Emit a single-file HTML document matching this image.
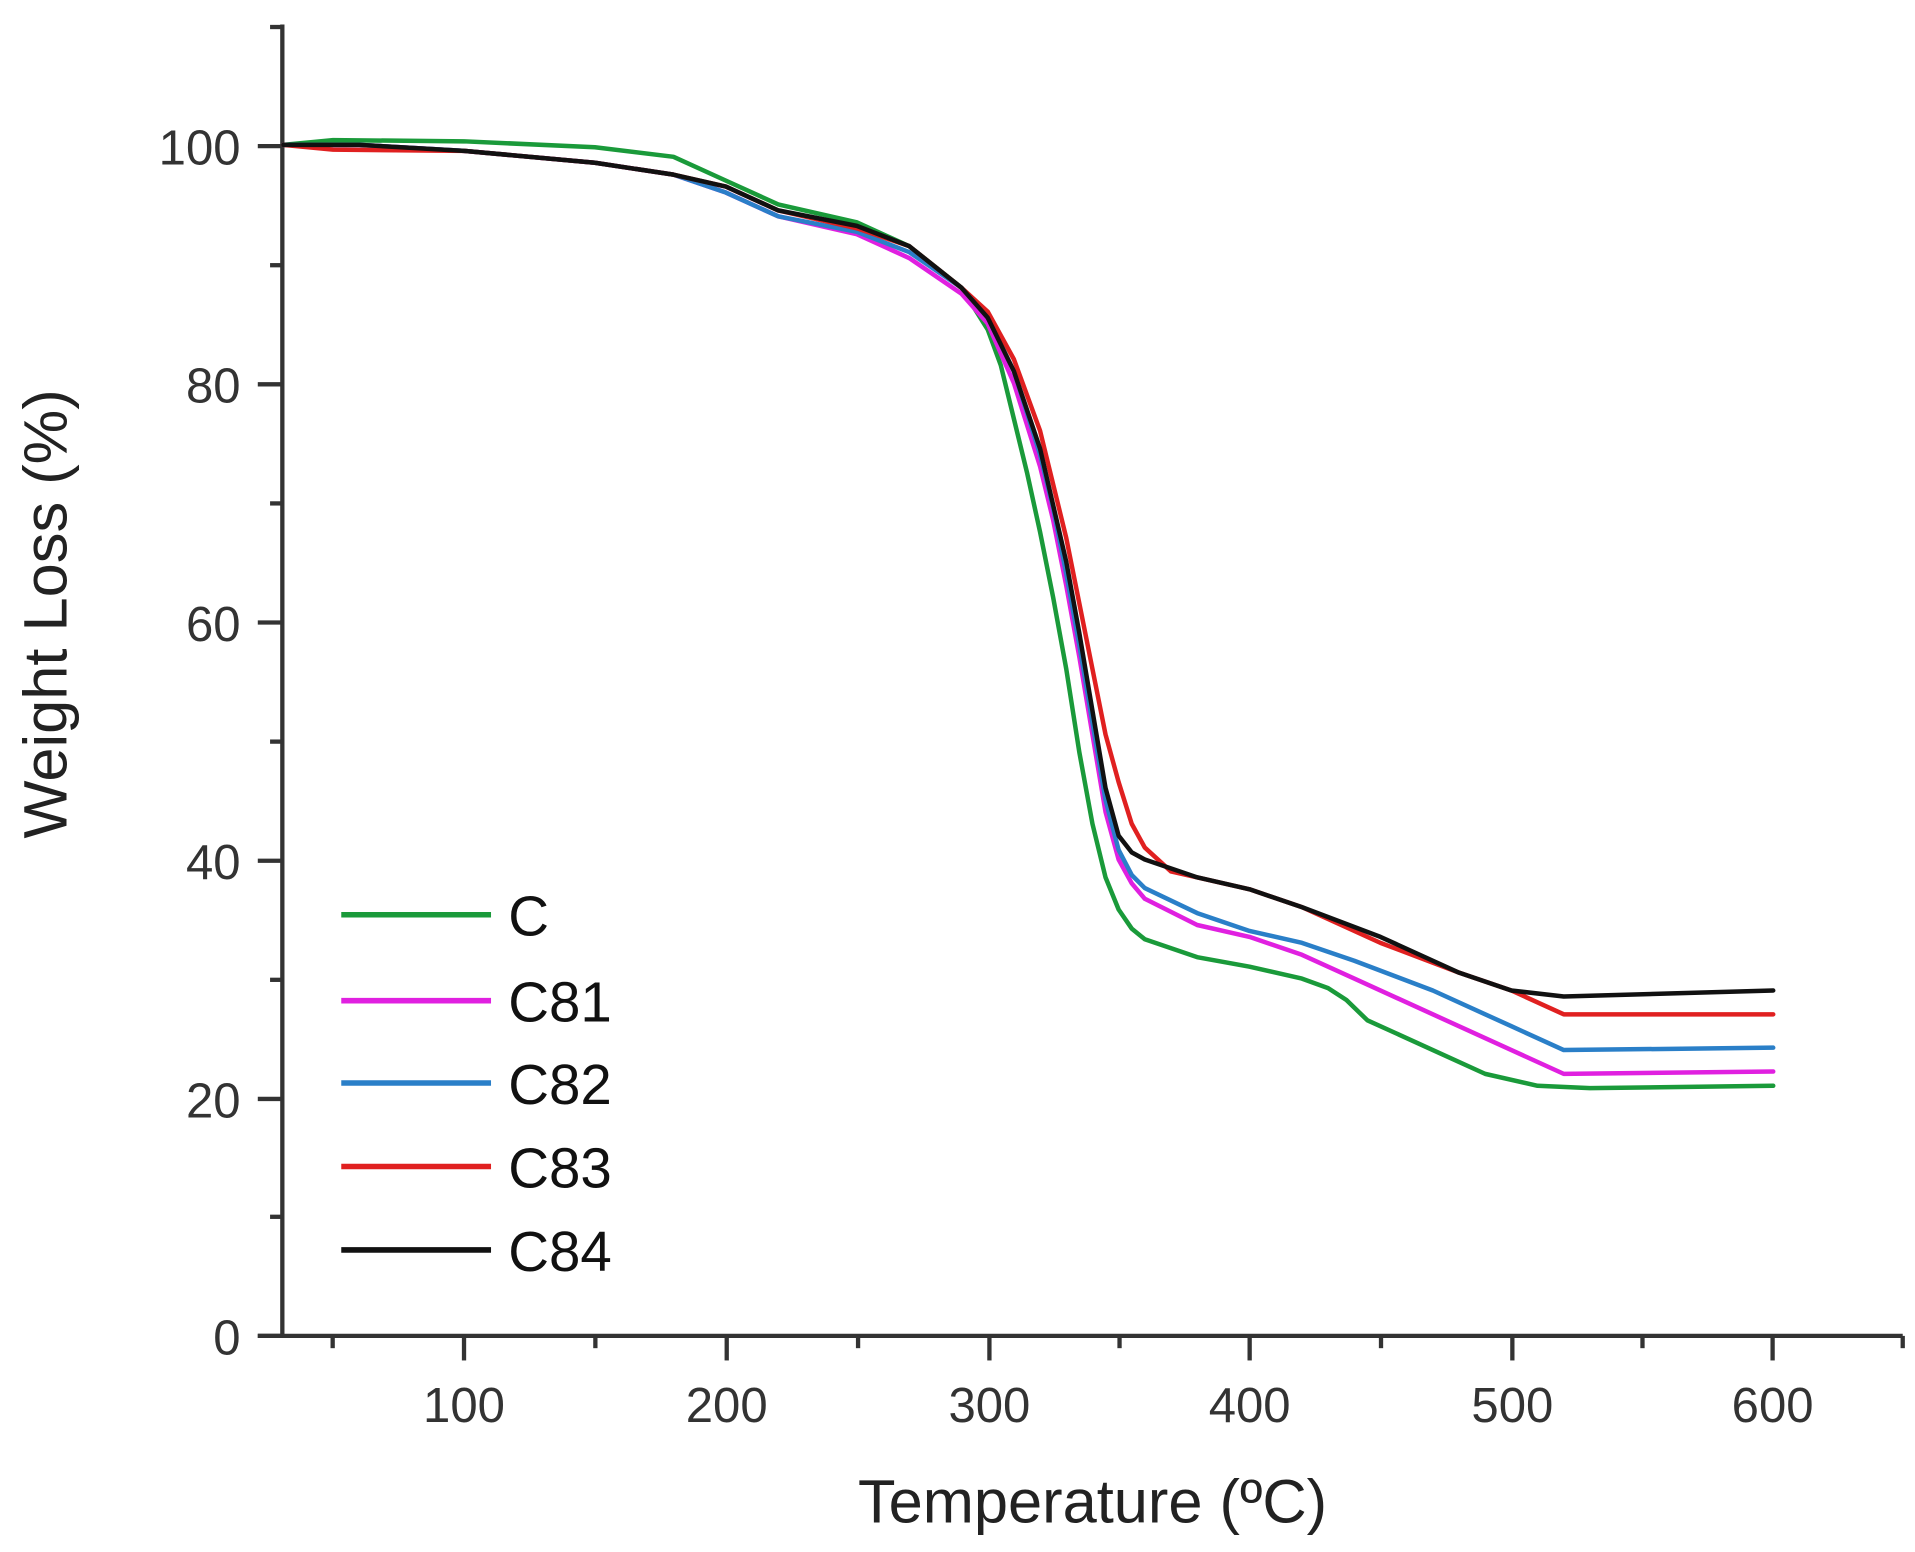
<!DOCTYPE html>
<html><head><meta charset="utf-8"><style>html,body{margin:0;padding:0;background:#fff}svg{display:block}</style></head>
<body>
<svg width="1915" height="1552" viewBox="0 0 1560 1264" preserveAspectRatio="none" xmlns="http://www.w3.org/2000/svg" font-family="Liberation Sans, sans-serif">
<g stroke="#333" stroke-width="3.5" fill="none">
<line x1="230" y1="20" x2="230" y2="1089"/>
<line x1="210" y1="1088" x2="1550" y2="1088"/>
<line x1="210" y1="1088" x2="230" y2="1088"/><line x1="220" y1="991" x2="230" y2="991"/>
<line x1="210" y1="895" x2="230" y2="895"/><line x1="220" y1="798" x2="230" y2="798"/>
<line x1="210" y1="701" x2="230" y2="701"/><line x1="220" y1="604" x2="230" y2="604"/>
<line x1="210" y1="507" x2="230" y2="507"/><line x1="220" y1="410" x2="230" y2="410"/>
<line x1="210" y1="313" x2="230" y2="313"/><line x1="220" y1="216" x2="230" y2="216"/>
<line x1="210" y1="119" x2="230" y2="119"/><line x1="220" y1="22" x2="230" y2="22"/>
<line x1="271" y1="1088" x2="271" y2="1098"/><line x1="378" y1="1088" x2="378" y2="1108"/>
<line x1="485" y1="1088" x2="485" y2="1098"/><line x1="592" y1="1088" x2="592" y2="1108"/>
<line x1="699" y1="1088" x2="699" y2="1098"/><line x1="806" y1="1088" x2="806" y2="1108"/>
<line x1="912" y1="1088" x2="912" y2="1098"/><line x1="1018" y1="1088" x2="1018" y2="1108"/>
<line x1="1125" y1="1088" x2="1125" y2="1098"/><line x1="1232" y1="1088" x2="1232" y2="1108"/>
<line x1="1338" y1="1088" x2="1338" y2="1098"/><line x1="1444" y1="1088" x2="1444" y2="1108"/>
<line x1="1550" y1="1088" x2="1550" y2="1098"/>
</g>
<g font-size="40" fill="#333" text-anchor="end">
<text x="196" y="1103">0</text><text x="196" y="910">20</text><text x="196" y="716">40</text>
<text x="196" y="522">60</text><text x="196" y="328">80</text><text x="196" y="134">100</text>
</g>
<g font-size="40" fill="#333" text-anchor="middle">
<text x="378" y="1158">100</text><text x="592" y="1158">200</text><text x="806" y="1158">300</text>
<text x="1018" y="1158">400</text><text x="1232" y="1158">500</text><text x="1444" y="1158">600</text>
</g>
<text x="890" y="1240" font-size="50" fill="#222" text-anchor="middle">Temperature (ºC)</text>
<text transform="translate(54,500) rotate(-90)" font-size="50" fill="#222" text-anchor="middle">Weight Loss (%)</text>

<g transform="translate(164.7,1088) scale(2.133,-9.7)" fill="none" stroke-width="4.5" stroke-linejoin="round" stroke-linecap="round">
<polyline vector-effect="non-scaling-stroke" stroke="#1a9a3a" points="31,100 50,100.4 100,100.3 150,99.8 180,99 200,97 220,95 250,93.5 270,91.5 290,88 300,84.5 305,81.5 310,77 315,72.5 320,67.5 325,62 330,56 335,49 340,43 345,38.5 350,35.8 355,34.2 360,33.3 380,31.8 400,31 420,30 430,29.2 437,28.2 445,26.5 470,24 490,22 510,21 530,20.8 600,21"/>
<polyline vector-effect="non-scaling-stroke" stroke="#e020e0" points="31,100 60,100 100,99.5 150,98.5 180,97.5 200,96 220,94 250,92.5 270,90.5 290,87.5 300,85 310,80 320,73 325,68.5 330,63 335,57 340,50.5 345,44 350,40 355,38 360,36.7 380,34.5 400,33.5 420,32 440,30 470,27 500,24 520,22 600,22.2"/>
<polyline vector-effect="non-scaling-stroke" stroke="#2a7fc8" points="31,100 60,100 100,99.5 150,98.5 180,97.5 200,96 220,94 250,92.7 270,91 290,88 300,85.5 310,81 320,74 325,69.5 330,64 335,58 340,51.5 345,45 350,40.8 355,38.7 360,37.6 380,35.5 400,34 420,33 440,31.5 470,29 500,26 520,24 600,24.2"/>
<polyline vector-effect="non-scaling-stroke" stroke="#e02020" points="31,100 50,99.6 100,99.5 150,98.5 180,97.5 200,96.5 220,94.5 250,93 270,91.5 290,88 300,86 310,82 320,76 330,67 335,61.5 340,56 345,50.5 350,46.5 355,43 360,41 370,39 400,37.5 420,36 450,33 480,30.5 500,29 520,27 600,27"/>
<polyline vector-effect="non-scaling-stroke" stroke="#111" points="31,100 60,100 100,99.5 150,98.5 180,97.5 200,96.5 220,94.5 250,93.2 270,91.5 290,88 300,85.5 310,81 320,74.5 330,65 335,59 340,52.5 345,46 350,42 355,40.6 360,40 380,38.5 400,37.5 420,36 450,33.5 480,30.5 500,29 520,28.5 600,29"/>
</g>

<g stroke-width="4.5">
<line x1="278" y1="745" x2="400" y2="745" stroke="#1a9a3a"/>
<line x1="278" y1="815" x2="400" y2="815" stroke="#e020e0"/>
<line x1="278" y1="882" x2="400" y2="882" stroke="#2a7fc8"/>
<line x1="278" y1="950" x2="400" y2="950" stroke="#e02020"/>
<line x1="278" y1="1018" x2="400" y2="1018" stroke="#111"/>
</g>
<g font-size="46" fill="#111">
<text x="414" y="762">C</text><text x="414" y="832">C81</text><text x="414" y="899">C82</text>
<text x="414" y="967">C83</text><text x="414" y="1035">C84</text>
</g>
</svg>
</body></html>
